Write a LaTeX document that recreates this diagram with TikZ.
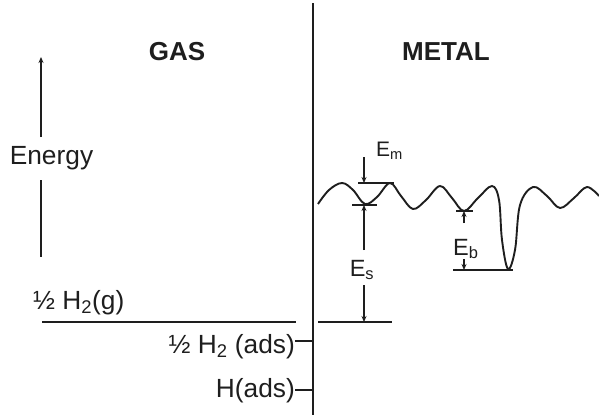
\documentclass[tikz,border=0pt]{standalone}
\usepackage{fontspec}
\setmainfont{Liberation Sans}
\usetikzlibrary{arrows.meta}
\definecolor{ink}{HTML}{1E1E1E}
\begin{document}
\begin{tikzpicture}[x=1pt,y=-1pt,
  every node/.style={inner sep=0pt,text=ink},
  thin line/.style={draw=ink,line width=1.1pt},
  thick line/.style={draw=ink,line width=1.8pt},
  arr/.style={draw=ink,line width=1.1pt,-{Stealth[length=6pt,width=5pt]}},
  lbl/.style={font=\fontsize{26.3}{29}\selectfont},
  elbl/.style={font=\fontsize{23.5}{26}\selectfont},
  head/.style={font=\fontsize{26}{29}\selectfont\bfseries}]
\useasboundingbox (0,0) rectangle (599,415);

% divider
\coordinate (divtop) at (313,3);
\coordinate (divbot) at (313,415);
\draw[thick line] (divtop) -- (divbot);

% headings
\node[head] (gas) at (177,52) {GAS};
\node[head] (metal) at (446,52) {METAL};

% energy axis
\node[lbl,anchor=base] (energy) at (51.5,164) {Energy};
\coordinate (eaxtop) at (41,57);
\coordinate (eaxa) at (41,137);
\coordinate (eaxb) at (41,180);
\coordinate (eaxbot) at (41,257);
\draw[arr] (eaxa) -- (eaxtop);
\draw[thin line] (eaxb) -- (eaxbot);

% gas level
\node[lbl,anchor=base west] (h2g) at (33,309) {½ H\textsubscript{2}(g)};
\coordinate (gl) at (42,322);
\coordinate (gr) at (296,322);
\draw[thick line] (gl) -- (gr);

% adsorbed levels
\node[lbl,anchor=base east] (h2ads) at (295,353) {½ H\textsubscript{2} (ads)};
\node[lbl,anchor=base east] (hads) at (295,397) {H(ads)};
\coordinate (t1) at (313,341);
\coordinate (t2) at (313,390);
\draw[thin line] (h2ads.east |- t1) -- (t1);
\draw[thin line] (hads.east |- t2) -- (t2);

% potential curve
\draw[thick line,line width=1.9pt] plot[smooth,tension=0.6] coordinates {
  (318,204) (329,190) (342,183) (353,190) (365,204) (377,197) (390,183)
  (401,196) (413,209) (426,200) (440,186) (452,198) (464,211)
  (478,198) (492,186) (499,200) (502,240) (508,269) (515,250)
  (520,205) (533,187) (547,196) (560,208) (574,198) (587,187) (599,196)};

% E_s / E_m construction
\coordinate (pkl) at (358,183);
\coordinate (pkr) at (394,183);
\draw[thin line] (pkl) -- (pkr);
\coordinate (trl) at (352,205);
\coordinate (trr) at (377,205);
\draw[thin line] (trl) -- (trr);
\coordinate (mtop) at (364,157);
\coordinate (mpk) at (364,183);
\draw[arr] (mtop) -- (mpk);
\node[font=\fontsize{21}{24}\selectfont,anchor=base west] (em) at (376,156) {E\textsubscript{m}};

\coordinate (bl) at (318,322);
\coordinate (br) at (392,322);
\draw[thin line] (bl) -- (br);
\node[elbl] (es) at (362,270) {E\textsubscript{s}};
\coordinate (sa) at (364,250);
\coordinate (sb) at (364,285);
\coordinate (str) at (364,205);
\coordinate (sbt) at (364,322);
\draw[arr] (sa) -- (str);
\draw[arr] (sb) -- (sbt);

% E_b construction
\coordinate (btl) at (456,211);
\coordinate (btr) at (473,211);
\draw[thin line] (btl) -- (btr);
\coordinate (bwl) at (453,270);
\coordinate (bwr) at (513,270);
\draw[thin line] (bwl) -- (bwr);
\node[elbl,anchor=base west] (eb) at (453,255) {E\textsubscript{b}};
\coordinate (ba) at (464,223);
\coordinate (bt) at (464,211);
\coordinate (bb) at (464,259);
\coordinate (bw) at (464,270);
\draw[arr] (ba) -- (bt);
\draw[arr] (bb) -- (bw);
\end{tikzpicture}
\end{document}
